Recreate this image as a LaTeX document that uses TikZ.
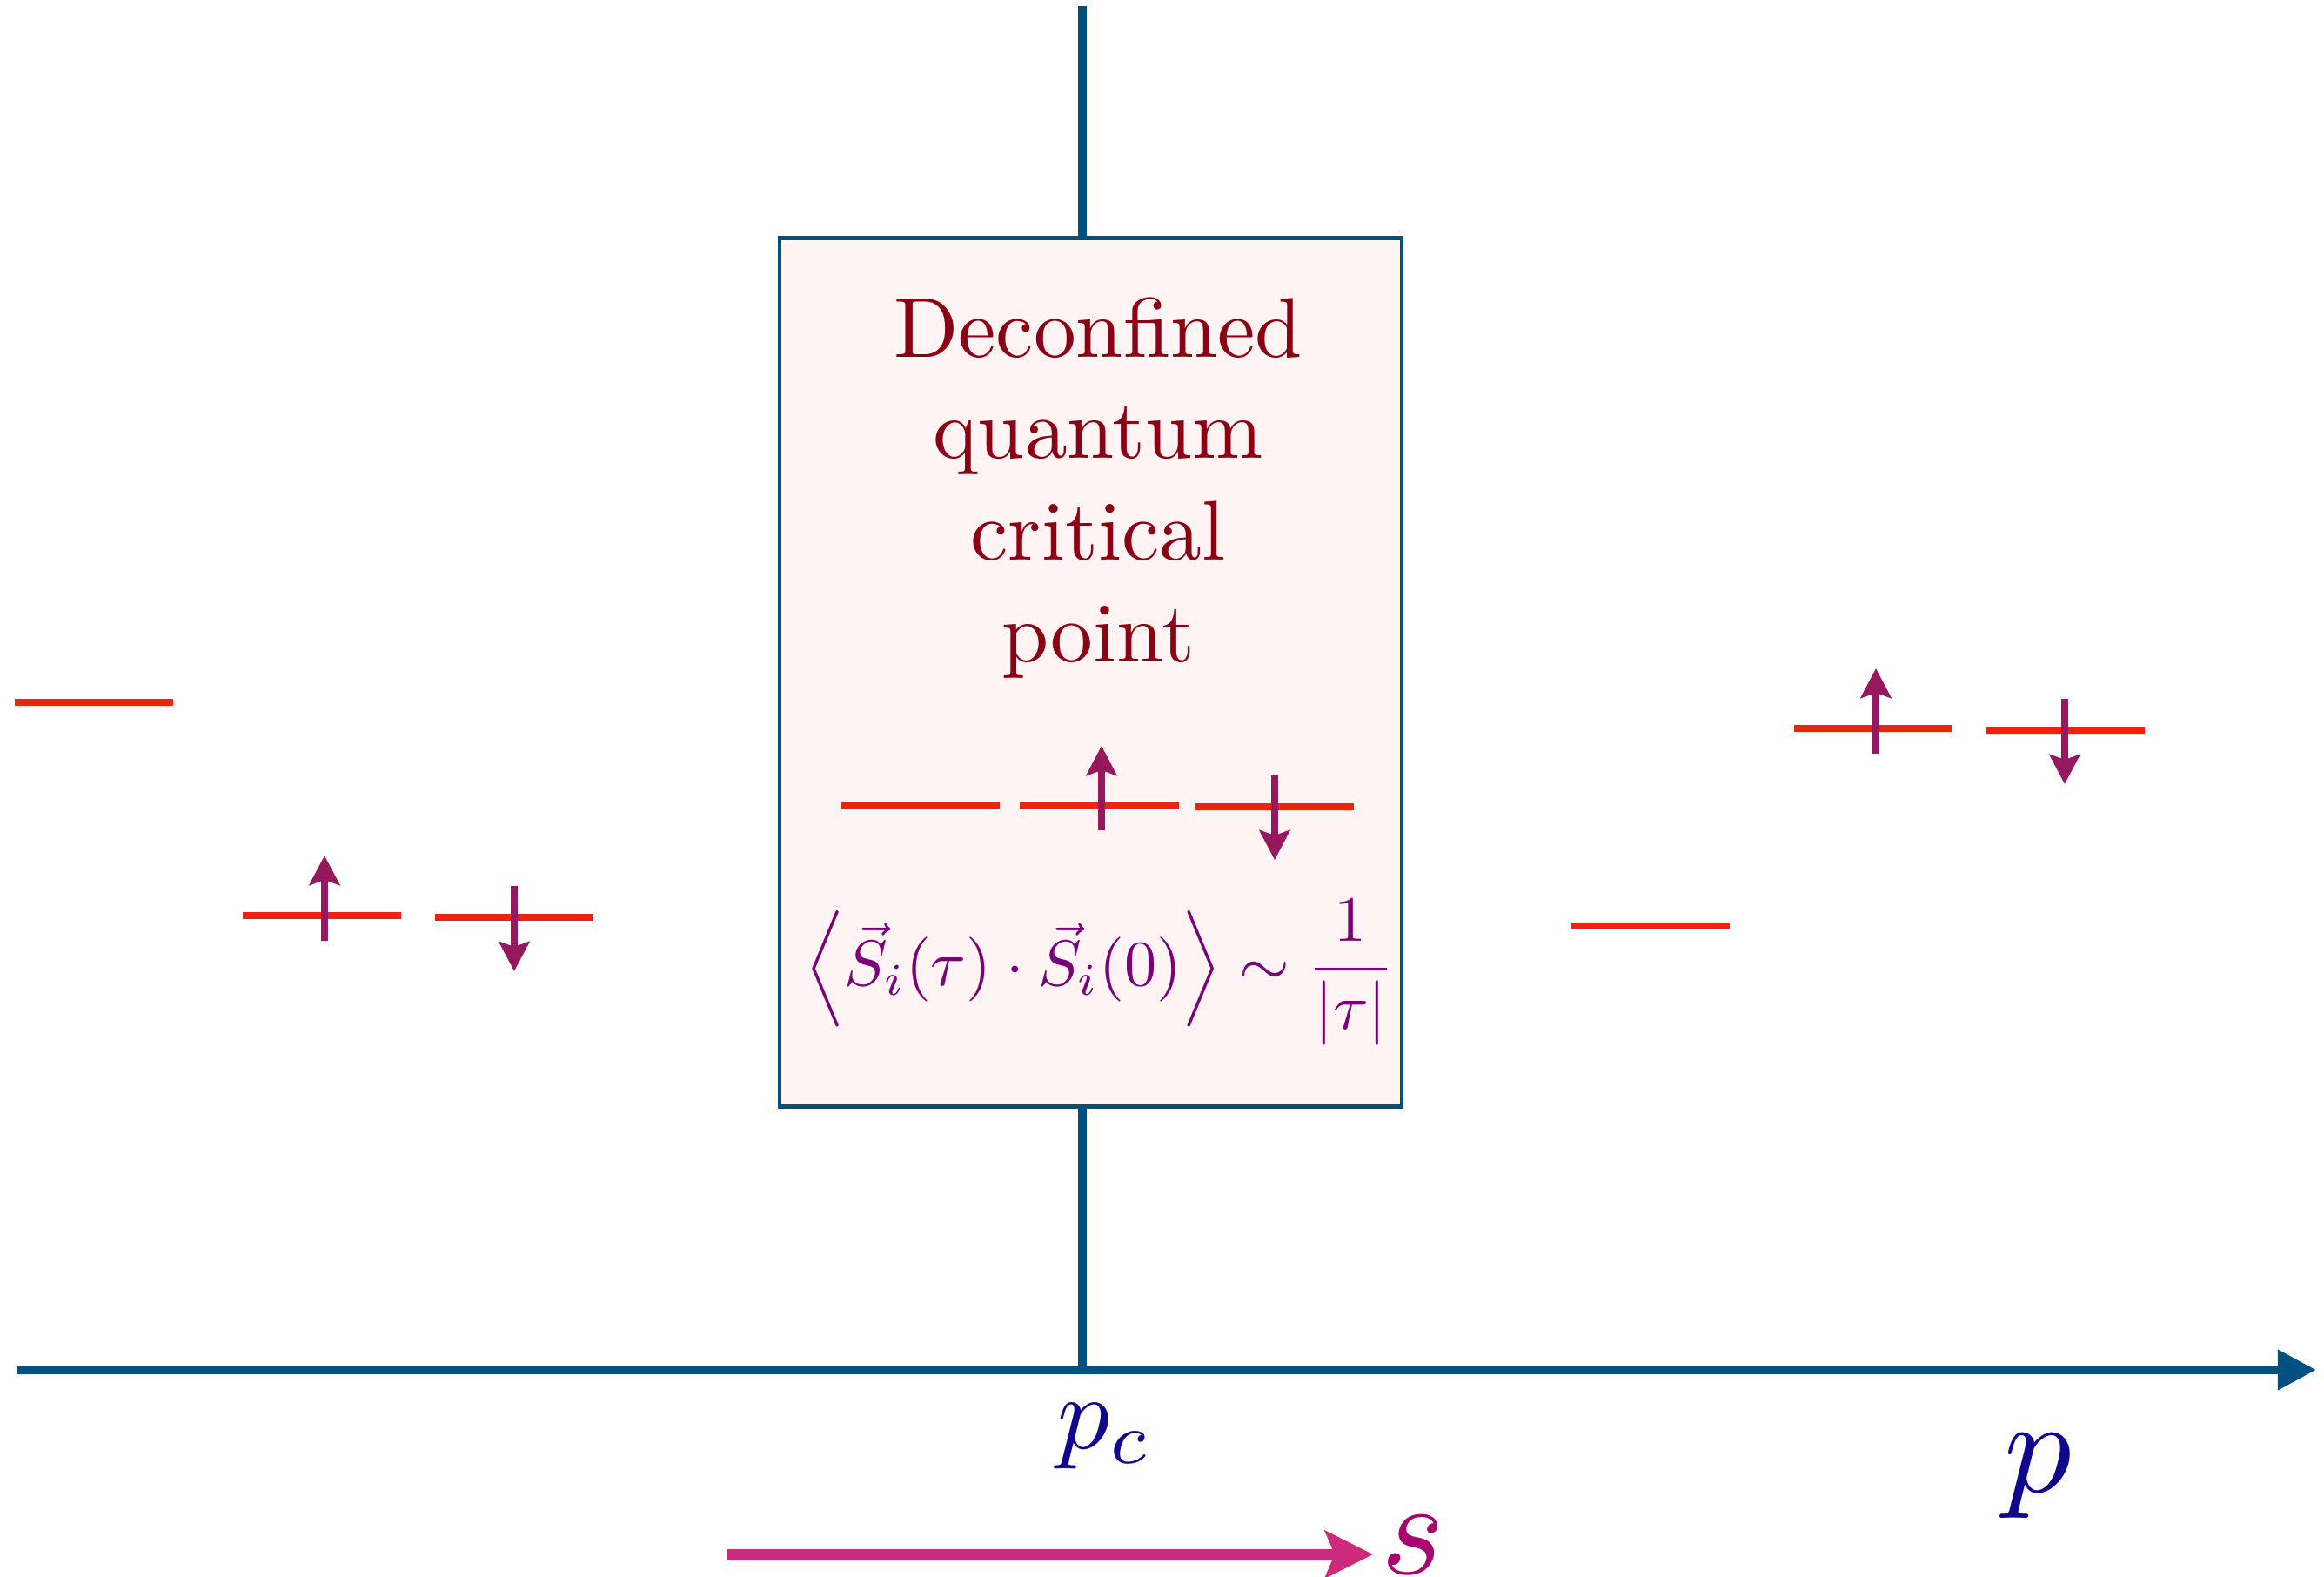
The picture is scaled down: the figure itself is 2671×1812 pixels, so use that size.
\documentclass[tikz,border=0pt]{standalone}
\usepackage{graphicx}
\usetikzlibrary{arrows.meta}
\definecolor{axisblue}{RGB}{0,80,128}
\definecolor{boxfill}{RGB}{253,244,243}
\definecolor{levelred}{RGB}{238,34,17}
\definecolor{spinpurple}{RGB}{150,25,95}
\definecolor{titlered}{RGB}{139,0,20}
\definecolor{formpurple}{RGB}{120,0,120}
\definecolor{labelnavy}{RGB}{16,8,140}
\definecolor{sarrowcol}{RGB}{204,42,122}
\definecolor{slabelcol}{RGB}{170,0,110}
\tikzset{
  axisline/.style={draw=axisblue, line width=0.1cm},
  levelline/.style={draw=levelred, line width=0.08cm},
  spinarrow/.style={draw=spinpurple, fill=spinpurple, line width=0.08cm,
    -{Stealth[length=0.34cm,width=0.35cm,inset=0.06cm]}},
  dqcpbox/.style={draw=axisblue, fill=boxfill, line width=0.045cm,
    minimum width=7.15cm, minimum height=9.97cm, inner sep=0pt},
  plain/.style={inner sep=0pt, outer sep=0pt}
}
\begin{document}
\begin{tikzpicture}[x=0.01cm,y=-0.01cm]
\useasboundingbox (0,0) rectangle (2671,1812);
% vertical line and axis
\coordinate (vtop) at (1244,7);
\coordinate (pcpt) at (1244,1574);
\coordinate (axL) at (20,1574);
\coordinate (axR) at (2662,1574);
\draw[axisline] (vtop) -- (pcpt);
\draw[axisline, -{Triangle[length=0.44cm,width=0.44cm]}] (axL) -- (axR);
% box
\node[dqcpbox] (box) at (1253.5,772.5) {};
\node[plain, text=titlered] (title) at (1262,562)
  {\scalebox{2.77}{\fontsize{10}{12}\selectfont\begin{tabular}{@{}c@{}}Deconfined\\quantum\\critical\\point\end{tabular}}};
% levels left
\draw[levelline] (17,807) -- (199,807);
\draw[levelline] (279,1052) -- (461,1052);
\draw[levelline] (500,1054) -- (682,1054);
\draw[spinarrow] (373,1081) -- (373,983);
\draw[spinarrow] (591,1018) -- (591,1116);
% levels center
\draw[levelline] (966,925) -- (1149,925);
\draw[levelline] (1172,926) -- (1355,926);
\draw[levelline] (1373,927) -- (1556,927);
\draw[spinarrow] (1266,954) -- (1266,857);
\draw[spinarrow] (1465,891) -- (1465,988);
% levels right
\draw[levelline] (1806,1064) -- (1988,1064);
\draw[levelline] (2062,837) -- (2244,837);
\draw[levelline] (2283,839) -- (2465,839);
\draw[spinarrow] (2156,866) -- (2156,768);
\draw[spinarrow] (2373,803) -- (2373,901);
% formula
\node[plain, anchor=base, text=formpurple] (corr) at (1264,1132)
  {\scalebox{2.11}{$\displaystyle \Big\langle \vec{S}_i(\tau)\cdot\vec{S}_i(0)\Big\rangle \sim \frac{1}{|\tau|}$}};
% labels
\node[plain, anchor=base, text=labelnavy] (pc) at (1270,1664) {\scalebox{3.41}{$p_c$}};
\node[plain, anchor=base, text=labelnavy] (plab) at (2342,1714) {\scalebox{4.4}{$p$}};
% s arrow
\coordinate (sstart) at (836,1786);
\coordinate (send) at (1578,1786);
\draw[draw=sarrowcol, fill=sarrowcol, line width=0.13cm,
  -{Stealth[length=0.55cm,width=0.54cm,inset=0.11cm]}] (sstart) -- (send);
\node[plain, anchor=base, text=slabelcol] (slab) at (1624,1808) {\scalebox{4.4}{$s$}};
\end{tikzpicture}
\end{document}
